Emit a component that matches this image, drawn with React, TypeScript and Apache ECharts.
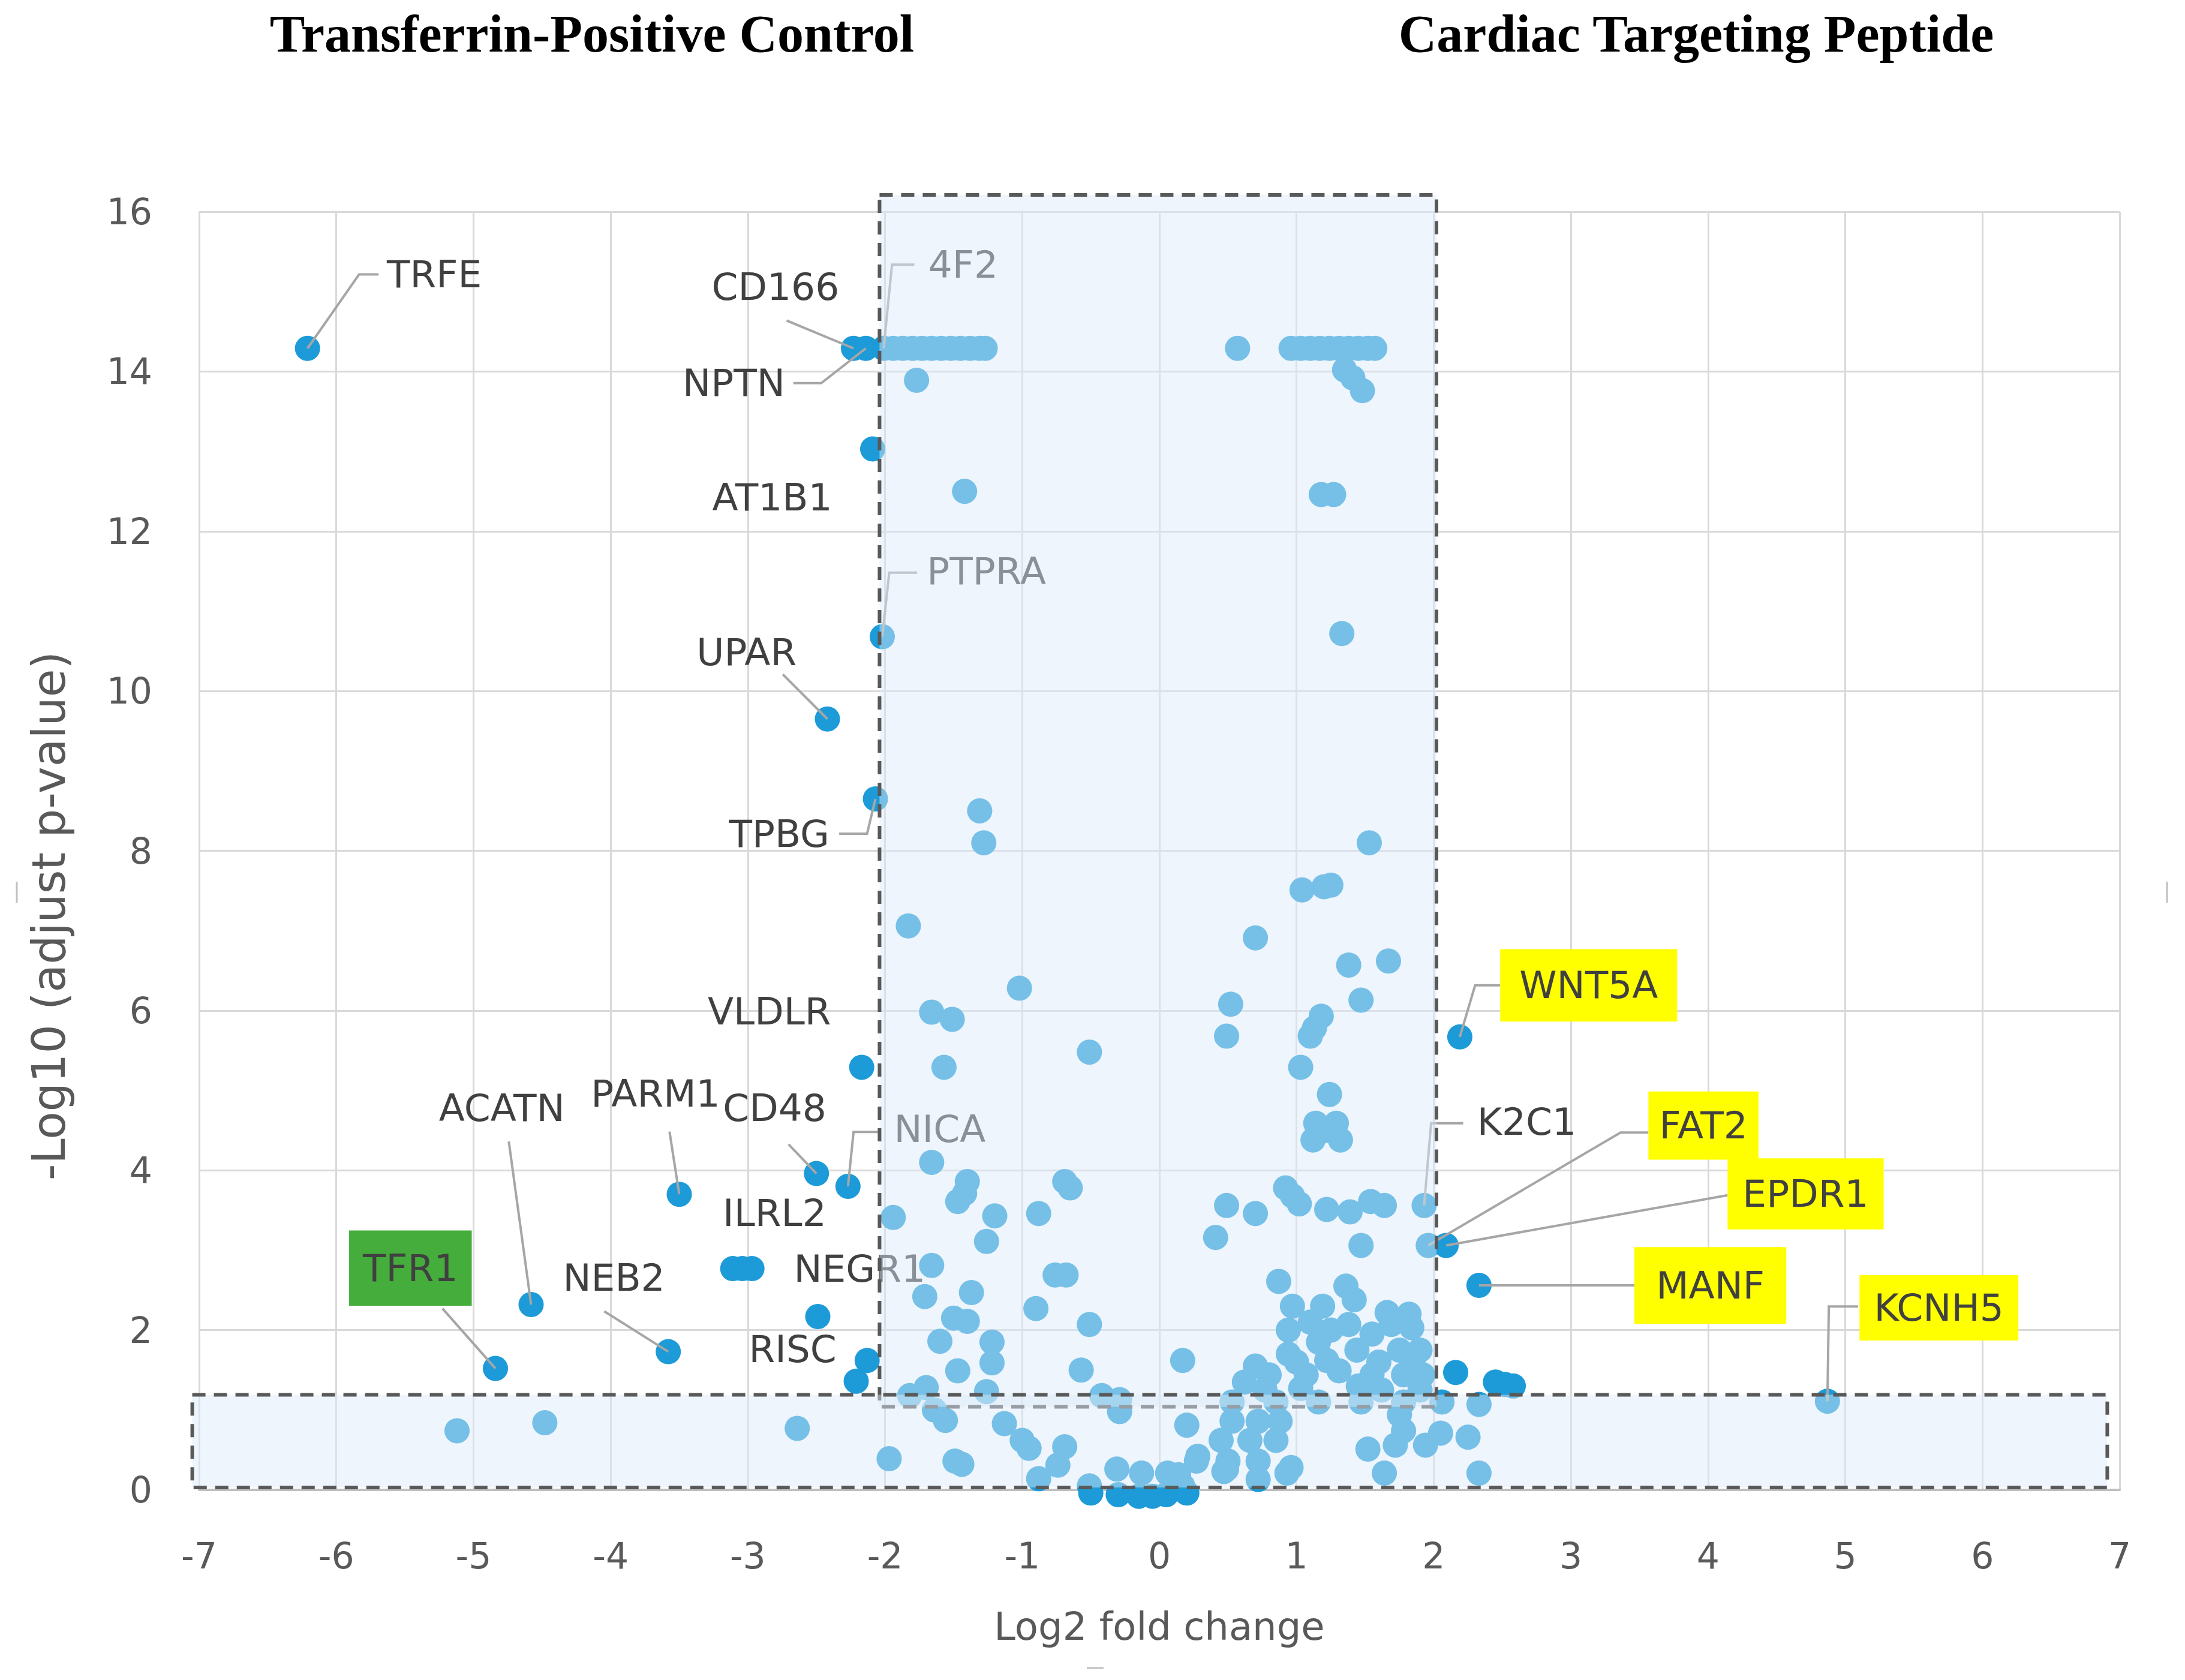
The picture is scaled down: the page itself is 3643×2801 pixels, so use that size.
import React, { useEffect, useRef } from "react";
import * as echarts from "echarts";

const W = 3643;
const H = 2801;
// label offsets below were measured on the 1568-px-wide preview of the figure
const K = 3643 / 1568;
const FONT = "DejaVu Sans";

const xRange = [-7, 7];
const yRange = [0, 16];
const xStep = 1;
const yStep = 2;

const panelTitles = ["Transferrin-Positive Control", "Cardiac Targeting Peptide"];
const xAxisTitle = "Log2 fold change";
const yAxisTitle = "-Log10 (adjust p-value)";

// labelled proteins: [name, log2FC, -log10 adj p]
const labelledNames = ["TRFE", "CD166", "NPTN", "4F2", "AT1B1", "PTPRA", "UPAR", "TPBG", "VLDLR", "CD48", "NICA", "PARM1", "ILRL2", "NEGR1", "ACATN", "RISC", "NEB2", "TFR1", "WNT5A", "K2C1", "FAT2", "EPDR1", "MANF", "KCNH5"];
const labelledFC = [-6.21, -2.23, -2.14, -2.01, -2.09, -2.02, -2.42, -2.07, -2.17, -2.5, -2.27, -3.5, -3.11, -2.97, -4.58, -2.13, -3.58, -4.84, 2.19, 1.93, 1.96, 2.09, 2.33, 4.87];
const labelledP = [14.29, 14.29, 14.29, 14.29, 13.03, 10.68, 9.65, 8.65, 5.29, 3.96, 3.8, 3.7, 2.77, 2.77, 2.32, 1.62, 1.73, 1.52, 5.67, 3.56, 3.06, 3.06, 2.56, 1.11];

// all other proteins: [log2FC, -log10 adj p]
const otherProteins = [
  [-1.94, 14.29], [-1.87, 14.29], [-1.8, 14.29], [-1.73, 14.29], [-1.66, 14.29], [-1.59, 14.29], [-1.52, 14.29], [-1.45, 14.29], [-1.38, 14.29], [-1.31, 14.29], [-1.27, 14.29],
  [0.57, 14.29],
  [0.96, 14.29], [1.03, 14.29], [1.1, 14.29], [1.17, 14.29], [1.24, 14.29], [1.31, 14.29], [1.38, 14.29], [1.45, 14.29], [1.52, 14.29], [1.57, 14.29],
  [-1.77, 13.89], [1.35, 14.02], [1.41, 13.92], [1.48, 13.76],
  [-1.42, 12.5], [1.18, 12.46], [1.27, 12.46],
  [1.33, 10.72],
  [-1.31, 8.5], [-1.28, 8.1], [1.53, 8.1],
  [1.04, 7.51], [1.2, 7.55], [1.25, 7.57],
  [-1.83, 7.06], [0.7, 6.91], [1.38, 6.57], [1.67, 6.62],
  [-1.02, 6.28], [1.47, 6.13], [0.52, 6.08],
  [-1.66, 5.98], [-1.51, 5.89], [1.18, 5.93], [1.13, 5.78], [1.1, 5.68], [0.49, 5.68],
  [-0.51, 5.48],
  [-1.57, 5.29], [1.03, 5.29],
  [1.24, 4.95],
  [1.14, 4.59], [1.29, 4.59], [1.22, 4.5], [1.12, 4.38], [1.32, 4.38],
  [-1.66, 4.1], [-1.4, 3.86], [-1.42, 3.71], [-1.47, 3.61], [-1.94, 3.41], [-1.2, 3.43], [-1.26, 3.11],
  [-0.69, 3.86], [-0.65, 3.78], [-0.88, 3.46],
  [0.49, 3.56], [0.7, 3.46], [0.41, 3.16],
  [0.92, 3.78], [0.97, 3.68], [1.02, 3.58],
  [1.22, 3.51], [1.39, 3.48], [1.54, 3.61], [1.64, 3.56],
  [1.47, 3.06],
  [-1.66, 2.81], [-0.76, 2.69], [-0.68, 2.69],
  [0.87, 2.61],
  [-1.71, 2.42], [-1.37, 2.47], [-0.9, 2.27], [-0.51, 2.07],
  [-3.04, 2.77],
  [-2.49, 2.17],
  [-2.21, 1.36],
  [-1.5, 2.15], [-1.4, 2.11],
  [-1.6, 1.86], [-1.22, 1.85], [-1.22, 1.59], [-1.47, 1.49],
  [-1.82, 1.18], [-1.7, 1.28], [-1.26, 1.23], [-1.56, 0.87], [-1.64, 1.0],
  [-1.97, 0.39], [-1.44, 0.32], [-1.49, 0.36],
  [-1.13, 0.83], [-1.0, 0.62], [-0.95, 0.52],
  [-0.57, 1.5],
  [-0.42, 1.18], [-0.29, 1.13], [-0.29, 0.98],
  [-0.69, 0.54], [-0.74, 0.31], [-0.88, 0.14],
  [-0.51, 0.05], [-0.31, 0.26], [-0.13, 0.21], [0.06, 0.21], [0.17, 0.05],
  [-0.5, -0.04], [-0.3, -0.06], [-0.15, -0.08], [-0.05, -0.08], [0.05, -0.06], [0.2, -0.04],
  [0.17, 1.62], [0.2, 0.81], [0.28, 0.42],
  [0.97, 2.3], [1.36, 2.55], [1.42, 2.38], [1.19, 2.3], [0.94, 2.0], [1.38, 2.07], [1.16, 1.85], [1.69, 2.07], [1.84, 2.03],
  [0.94, 1.7], [1.44, 1.75], [1.75, 1.75], [1.9, 1.75], [0.8, 1.44], [1.07, 1.44], [1.31, 1.49], [1.55, 1.44], [1.78, 1.44], [1.92, 1.44],
  [0.77, 1.25], [1.03, 1.27], [1.62, 1.25],
  [1.1, 2.1], [1.25, 2.0], [1.55, 1.95], [1.0, 1.6], [1.22, 1.62], [1.6, 1.6], [1.85, 1.6], [0.62, 1.35], [1.45, 1.3], [1.9, 1.25], [0.7, 1.55], [1.66, 2.22], [1.82, 2.2],
  [0.53, 1.1], [0.85, 1.1], [1.16, 1.1], [1.47, 1.1], [1.78, 1.1], [2.06, 1.1],
  [0.53, 0.86], [0.72, 0.86], [0.88, 0.86], [0.45, 0.62], [0.66, 0.62], [0.85, 0.62], [0.27, 0.36], [0.5, 0.36], [0.72, 0.36],
  [0.47, 0.23], [0.96, 0.28], [0.72, 0.13], [0.14, 0.19], [0.93, 0.21], [0.49, 0.26],
  [1.75, 0.94], [1.78, 0.74], [1.72, 0.56], [1.94, 0.56], [1.52, 0.51], [2.05, 0.71], [2.25, 0.66], [1.64, 0.21], [2.33, 0.21],
  [2.16, 1.47], [2.45, 1.35], [2.52, 1.32], [2.58, 1.3],
  [2.33, 1.07],
  [-5.12, 0.74], [-4.48, 0.84], [-2.64, 0.77],
];

// threshold shading boxes: [x0, y0, x1, y1] in data units
const shadeBoxes = [
  [-2.04, 1.04, 2.02, 16.21],
  [-7.05, 0.03, 6.91, 1.19],
];

// label layout (offsets from the labelled point, preview px)
const LAYOUT = {
  TRFE: { line: [[0, 0], [37, -53], [51, -53]], t: [57, -53], align: "left" },
  CD166: { line: [[0, 0], [-48, -20]], t: [-56, -44], align: "center" },
  NPTN: { line: [[0, 0], [-32, 25], [-52, 25]], t: [-58, 25], align: "right" },
  "4F2": { line: [[0, 0], [6, -60], [22, -60]], t: [32, -60], align: "left" },
  AT1B1: { t: [-29, 35], align: "right" },
  PTPRA: { line: [[0, 0], [5, -46], [25, -46]], t: [32, -47], align: "left" },
  UPAR: { line: [[0, 0], [-32, -32]], t: [-58, -48], align: "center" },
  TPBG: { line: [[0, 0], [-6, 25], [-26, 25]], t: [-33, 25], align: "right" },
  VLDLR: { t: [-22, -40], align: "right" },
  CD48: { line: [[0, 0], [-20, -21]], t: [-30, -47], align: "center" },
  NICA: { line: [[0, 0], [4, -39], [22, -39]], t: [33, -41], align: "left" },
  PARM1: { line: [[0, 0], [-7, -45]], t: [-17, -72], align: "center" },
  ILRL2: { t: [30, -40], align: "center" },
  NEGR1: { t: [30, 0], align: "left" },
  ACATN: { line: [[0, 0], [-16, -117]], t: [-21, -141], align: "center" },
  RISC: { t: [-22, -8], align: "right" },
  NEB2: { line: [[0, 0], [-46, -29]], t: [-39, -53], align: "center" },
  TFR1: { line: [[0, 0], [-38, -43]], t: [-61, -72], align: "center", box: [88, 54, "#45ad3c"] },
  WNT5A: { line: [[0, 0], [11, -37], [29, -37]], t: [92.5, -37], align: "center", box: [127, 52, "#ffff00"] },
  K2C1: { line: [[0, 0], [5, -59], [28, -59]], t: [38, -60], align: "left" },
  FAT2: { line: [[0, 0], [138, -81], [158, -81]], t: [197.5, -86], align: "center", box: [79, 49, "#ffff00"] },
  EPDR1: { line: [[0, 0], [202, -36]], t: [258, -37], align: "center", box: [112, 51, "#ffff00"] },
  MANF: { line: [[0, 0], [112, 0]], t: [166, 0], align: "center", box: [109, 55, "#ffff00"] },
  KCNH5: { line: [[0, 0], [1, -68], [22, -68]], t: [80, -67], align: "center", box: [114, 47, "#ffff00"] },
};

function App() {
  const ref = useRef(null);

  useEffect(() => {
    const el = ref.current;
    if (!el) return;
    const chart = echarts.init(el, null, { renderer: "svg", width: W, height: H });

    const labelled = labelledNames.map((n, i) => [labelledFC[i], labelledP[i]]);
    const allPoints = [...otherProteins, ...labelled];

    const renderLabel = (params, api) => {
      const name = labelledNames[params.dataIndex];
      const L = LAYOUT[name];
      const c = api.coord([api.value(0), api.value(1)]);
      const children = [];
      if (L.line) {
        children.push({
          type: "polyline",
          shape: { points: L.line.map(([dx, dy]) => [c[0] + dx * K, c[1] + dy * K]) },
          style: { stroke: "#a6a6a6", lineWidth: 4, fill: null },
        });
      }
      const tx = c[0] + L.t[0] * K;
      const ty = c[1] + L.t[1] * K;
      if (L.box) {
        const bw = L.box[0] * K;
        const bh = L.box[1] * K;
        children.push({
          type: "rect",
          shape: { x: tx - bw / 2, y: ty - bh / 2, width: bw, height: bh },
          style: { fill: L.box[2] },
        });
      }
      children.push({
        type: "text",
        x: tx,
        y: ty,
        style: {
          text: name,
          fill: "#404040",
          fontSize: 63,
          fontFamily: FONT,
          align: L.align,
          verticalAlign: "middle",
        },
      });
      return { type: "group", children };
    };

    const renderShade = (params, api) => {
      const p0 = api.coord([api.value(0), api.value(3)]);
      const p1 = api.coord([api.value(2), api.value(1)]);
      return {
        type: "rect",
        shape: { x: p0[0], y: p0[1], width: p1[0] - p0[0], height: p1[1] - p0[1] },
        style: {
          fill: "rgba(219,234,249,0.47)",
          stroke: "#595959",
          lineWidth: 6,
          lineDash: [22, 14],
        },
      };
    };

    const axisLabelStyle = { fontSize: 60, color: "#595959", fontFamily: FONT };
    const splitLine = { show: true, lineStyle: { color: "#d9d9d9", width: 3 } };

    chart.setOption({
      animation: false,
      backgroundColor: "#ffffff",
      grid: { left: 332, right: 109, top: 353, bottom: 317, containLabel: false },
      xAxis: {
        type: "value",
        min: xRange[0],
        max: xRange[1],
        interval: xStep,
        axisLine: { show: true, onZero: false, lineStyle: { color: "#bfbfbf", width: 4 } },
        axisTick: { show: false },
        splitLine,
        axisLabel: { ...axisLabelStyle, margin: 80 },
        name: xAxisTitle,
        nameLocation: "middle",
        nameGap: 196,
        nameTextStyle: { fontSize: 64, color: "#595959", fontFamily: FONT },
      },
      yAxis: {
        type: "value",
        min: yRange[0],
        max: yRange[1],
        interval: yStep,
        axisLine: { show: false },
        axisTick: { show: false },
        splitLine,
        axisLabel: { ...axisLabelStyle, margin: 78 },
      },
      graphic: [
        {
          type: "text",
          x: 987,
          y: 56,
          style: {
            text: panelTitles[0],
            fill: "#000000",
            fontSize: 88,
            fontWeight: "bold",
            fontFamily: "Liberation Serif",
            align: "center",
            verticalAlign: "middle",
          },
        },
        {
          type: "text",
          x: 2828,
          y: 56,
          style: {
            text: panelTitles[1],
            fill: "#000000",
            fontSize: 88,
            fontWeight: "bold",
            fontFamily: "Liberation Serif",
            align: "center",
            verticalAlign: "middle",
          },
        },
        {
          type: "text",
          x: 81,
          y: 1527,
          rotation: Math.PI / 2,
          style: {
            text: yAxisTitle,
            fill: "#595959",
            fontSize: 76,
            fontFamily: FONT,
            align: "center",
            verticalAlign: "middle",
          },
        },
        { type: "line", shape: { x1: 28, y1: 1470, x2: 28, y2: 1505 }, style: { stroke: "#bfbfbf", lineWidth: 3 } },
        { type: "line", shape: { x1: 3613, y1: 1470, x2: 3613, y2: 1505 }, style: { stroke: "#bfbfbf", lineWidth: 3 } },
        { type: "line", shape: { x1: 1812, y1: 2781, x2: 1840, y2: 2781 }, style: { stroke: "#bfbfbf", lineWidth: 3 } },
      ],
      series: [
        {
          type: "scatter",
          data: allPoints,
          symbol: "circle",
          symbolSize: 42,
          clip: false,
          silent: true,
          z: 2,
          itemStyle: { color: "#1d9bd8", opacity: 1 },
        },
        {
          type: "custom",
          coordinateSystem: "cartesian2d",
          data: labelled,
          renderItem: renderLabel,
          clip: false,
          silent: true,
          z: 3,
        },
        {
          type: "custom",
          coordinateSystem: "cartesian2d",
          data: shadeBoxes,
          encode: { x: [0, 2], y: [1, 3] },
          renderItem: renderShade,
          clip: false,
          silent: true,
          z: 4,
        },
      ],
    });

    return () => {
      chart.dispose();
    };
  }, []);

  return (
    <div
      ref={ref}
      style={{ position: "absolute", left: 0, top: 0, width: W + "px", height: H + "px", background: "#ffffff" }}
    />
  );
}

export default App;
